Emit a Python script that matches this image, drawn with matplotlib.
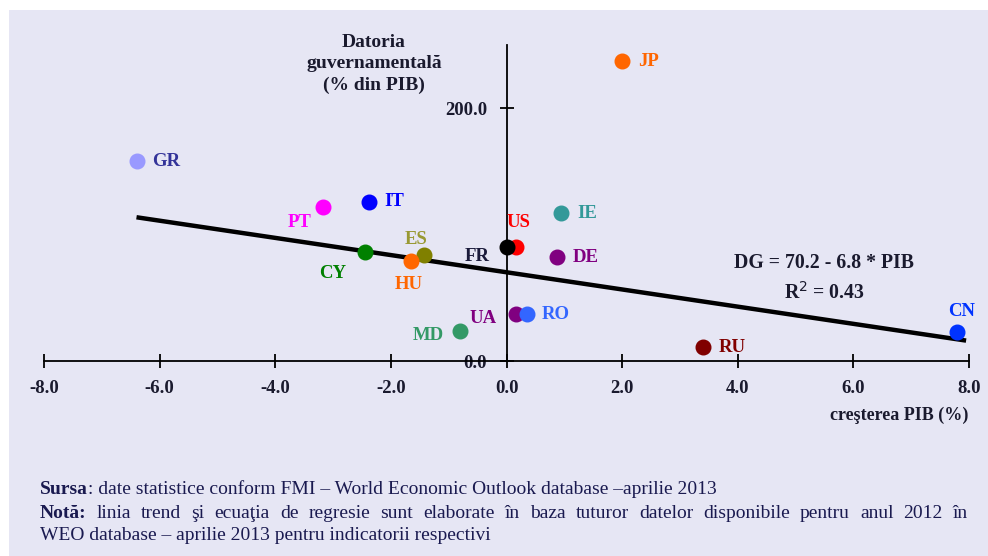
import matplotlib
matplotlib.use("Agg")
import matplotlib.pyplot as plt
from matplotlib.patches import Rectangle

# ---- data ----
countries = ["JP", "GR", "IT", "PT", "IE", "US", "FR", "DE", "ES", "CY", "HU", "UA", "RO", "MD", "RU", "CN"]
gdp_growth = [2.0, -6.4, -2.37, -3.17, 0.95, 0.17, 0.0, 0.88, -1.42, -2.44, -1.66, 0.16, 0.35, -0.81, 3.4, 7.8]
gov_debt = [237, 158, 126, 122, 117, 90.5, 90.5, 82, 84, 86, 79, 37, 37, 24, 11, 23]
marker_colors = ["#ff6600", "#9999ff", "#0000ff", "#ff00ff", "#339999", "#ff0000", "#000000", "#800080",
                 "#808000", "#008000", "#ff6600", "#800080", "#3366ff", "#339966", "#800000", "#0033ff"]
label_colors = ["#ff6600", "#333399", "#0000ff", "#ff00ff", "#339999", "#ff0000", "#1a1a3a", "#800080",
                "#999933", "#008000", "#ff6600", "#800080", "#3366ff", "#339966", "#800000", "#0033ff"]
# label offsets (pixels) and alignment
label_dx = [16, 16, 15, -24, 16, 2, -29, 15, -8, -33, -2, -33, 15, -31, 16, 4]
label_dy = [0, 0, 0, -16, 0, 24, -10, 0, 15, -21, -23, -4, 0, -5, 0, 20]
label_ha = ["left", "left", "left", "center", "left", "center", "center", "left", "center", "center",
            "center", "center", "left", "center", "left", "center"]

trend_intercept = 70.2
trend_slope = -6.8
trend_x = [-6.4, 7.95]
r_squared = 0.43

x_ticks = [-8, -6, -4, -2, 0, 2, 4, 6, 8]
y_ticks = [0, 200]

W, H = 988, 556
fig = plt.figure(figsize=(W / 100, H / 100), dpi=100)
fig.patch.set_facecolor("white")
# panel background
fig.patches.append(Rectangle((9 / W, 0), 1 - 9 / W, (H - 10) / H, transform=fig.transFigure,
                             facecolor="#e6e6f4", edgecolor="none", zorder=-5))

serif = "Liberation Serif"
txt_color = "#1a1a2e"
ax = fig.add_axes([44 / W, (H - 361) / H, 925 / W, 316 / H])
ax.set_zorder(2)
ax.set_facecolor("none")
ax.set_xlim(-8, 8)
ax.set_ylim(0, 250)
for s in ["top", "right"]:
    ax.spines[s].set_visible(False)
ax.spines["left"].set_position(("data", 0))
ax.spines["bottom"].set_position(("data", 0))
ax.spines["left"].set_linewidth(1.3)
ax.spines["bottom"].set_linewidth(1.3)
ax.set_xticks(x_ticks)
ax.set_xticklabels([f"{v:.1f}" for v in x_ticks])
ax.set_yticks(y_ticks)
ax.set_yticklabels([f"{v:.1f}" for v in y_ticks])
ax.tick_params(axis="x", direction="inout", length=10, width=1.3, pad=9)
ax.tick_params(axis="y", direction="inout", length=10, width=1.3, pad=9)
for lab in ax.get_xticklabels() + ax.get_yticklabels():
    lab.set_fontfamily(serif)
    lab.set_fontweight("bold")
    lab.set_fontsize(13.5)
    lab.set_color(txt_color)

# trend line
ty = [trend_intercept + trend_slope * x for x in trend_x]
ax.plot(trend_x, ty, color="black", lw=3.2, solid_capstyle="butt", zorder=2)

# points
for c, x, y, mc, lc, dx, dy, ha in zip(countries, gdp_growth, gov_debt, marker_colors, label_colors,
                                       label_dx, label_dy, label_ha):
    ax.plot([x], [y], "o", ms=10.5, color=mc, mec=mc, zorder=3, clip_on=False)
    ax.annotate(c, (x, y), xytext=(dx, dy), textcoords="offset pixels", ha=ha, va="center",
                fontsize=13.5, fontweight="bold", fontfamily=serif, color=lc, zorder=4)

# equation
fig.text(824 / W, (H - 263) / H, f"DG = {trend_intercept:.1f} - {abs(trend_slope):.1f} * PIB",
         ha="center", va="center", fontsize=14.2, fontweight="bold", fontfamily=serif, color=txt_color,
         zorder=5)
fig.text(824 / W, (H - 293) / H, f"R$^2$ = {r_squared:.2f}", ha="center", va="center", fontsize=14.2,
         fontweight="bold", fontfamily=serif, color=txt_color, zorder=5)

# axis titles
fig.text(374 / W, (H - 64) / H, "Datoria\nguvernamentală\n(% din PIB)", ha="center", va="center",
         fontsize=14, fontweight="bold", fontfamily=serif, color=txt_color, linespacing=1.3)
fig.text(968 / W, (H - 415) / H, "creşterea PIB (%)", ha="right", va="center", fontsize=13,
         fontweight="bold", fontfamily=serif, color=txt_color)

# notes
note_color = "#1a1a50"
note_size = 14
renderer = fig.canvas.get_renderer()


def mixed_line(x_px, y_px, parts, size):
    x = x_px
    for txt, weight in parts:
        t = fig.text(x / W, (H - y_px) / H, txt, ha="left", va="center", fontsize=size,
                     fontweight=weight, fontfamily=serif, color=note_color)
        bb = t.get_window_extent(renderer=renderer)
        x += bb.width


def justified_line(x0, x1, y_px, words, size):
    # words: list of (text, weight)
    arts = []
    total = 0
    for txt, weight in words:
        t = fig.text(0, (H - y_px) / H, txt, ha="left", va="center", fontsize=size,
                     fontweight=weight, fontfamily=serif, color=note_color)
        w = t.get_window_extent(renderer=renderer).width
        arts.append((t, w))
        total += w
    gap = (x1 - x0 - total) / (len(words) - 1)
    x = x0
    for t, w in arts:
        t.set_x(x / W)
        x += w + gap


mixed_line(40, 489, [("Sursa", "bold"), (": date statistice conform FMI – World Economic Outlook database –aprilie 2013", "normal")], note_size)
note_words = [("Notă:", "bold")] + [(w, "normal") for w in
              "linia trend şi ecuaţia de regresie sunt elaborate în baza tuturor datelor disponibile pentru anul 2012 în".split()]
justified_line(40, 968, 513, note_words, note_size)
mixed_line(40, 535, [("WEO database – aprilie 2013 pentru indicatorii respectivi", "normal")], note_size)

fig.savefig("out.png", dpi=100)
